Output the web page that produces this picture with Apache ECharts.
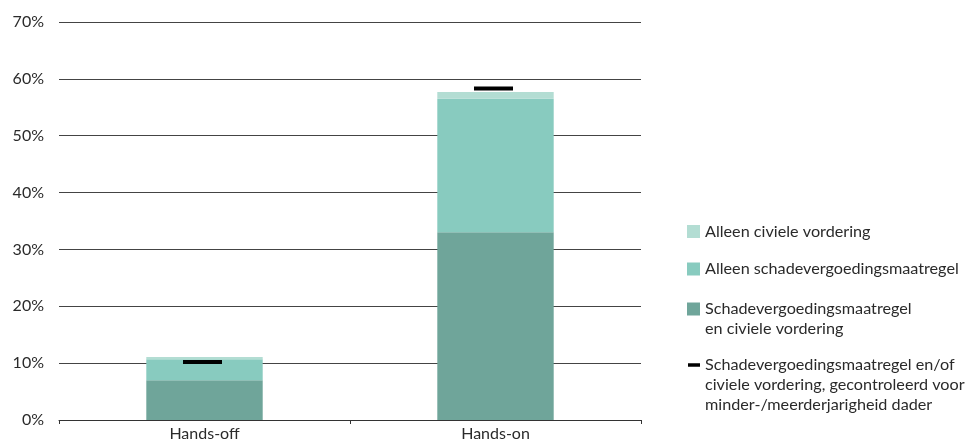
<!DOCTYPE html>
<html>
<head>
<meta charset="utf-8">
<script src="https://cdn.jsdelivr.net/npm/echarts@6/dist/echarts.min.js"></script>
<style>html,body{margin:0;padding:0;background:#fff}#c{width:968px;height:446px}</style>
</head>
<body>
<div id="c"></div>
<script>
var categories = ['Hands-off', 'Hands-on'];
var beide = [7.0, 33.0];              // Schadevergoedingsmaatregel en civiele vordering
var alleenSchade = [3.7, 23.5];       // Alleen schadevergoedingsmaatregel
var alleenCiviel = [0.4, 1.2];        // Alleen civiele vordering
var gecontroleerd = [10.2, 58.3];     // gecontroleerd voor minder-/meerderjarigheid dader
var yTicks = [0, 10, 20, 30, 40, 50, 60, 70];
var legendNames = [
  'Alleen civiele vordering',
  'Alleen schadevergoedingsmaatregel',
  'Schadevergoedingsmaatregel\nen civiele vordering',
  'Schadevergoedingsmaatregel en/of\nciviele vordering, gecontroleerd voor\nminder-/meerderjarigheid dader'
];
var colors = ['#b3ddd3', '#88cbbf', '#6fa59a', '#000000'];

var FONT = 'Lato';
var TXT = '#2a2a2a';

var chart = echarts.init(document.getElementById('c'), null, {renderer: 'canvas'});

var legendY = [231.5, 269, 309, 365];
var graphics = [];
legendNames.forEach(function (name, i) {
  if (i < 3) {
    graphics.push({type: 'rect', left: 687, top: legendY[i] - 6.5, shape: {width: 13, height: 13}, style: {fill: colors[i]}});
  } else {
    graphics.push({type: 'rect', left: 688, top: legendY[i] - 1.75, shape: {width: 12, height: 3.5}, style: {fill: colors[i]}});
  }
  graphics.push({type: 'text', left: 705, top: legendY[i] - 10,
    style: {text: name, font: '16.2px ' + FONT, fill: TXT, lineHeight: 20}});
});

chart.setOption({
  animation: false,
  grid: {left: 59, right: 327, top: 22, bottom: 26},
  xAxis: {
    type: 'category',
    data: categories,
    axisLine: {show: true, lineStyle: {color: '#333', width: 1}},
    axisTick: {show: true, length: 4, alignWithLabel: false, lineStyle: {color: '#333'}},
    axisLabel: {color: TXT, fontFamily: FONT, fontSize: 16, margin: 6}
  },
  yAxis: {
    type: 'value',
    min: yTicks[0], max: yTicks[yTicks.length - 1], interval: 10,
    axisLine: {show: false},
    axisTick: {show: false},
    splitLine: {show: true, lineStyle: {color: '#444', width: 1}},
    axisLabel: {color: TXT, fontFamily: FONT, fontSize: 16, margin: 15, formatter: '{value}%'}
  },
  series: [
    {name: legendNames[2], type: 'bar', stack: 'a', data: beide, barWidth: '40%', itemStyle: {color: colors[2]}},
    {name: legendNames[1], type: 'bar', stack: 'a', data: alleenSchade, itemStyle: {color: colors[1]}},
    {name: legendNames[0], type: 'bar', stack: 'a', data: alleenCiviel, itemStyle: {color: colors[0]}},
    {name: legendNames[3], type: 'scatter', data: gecontroleerd, symbol: 'rect', symbolSize: [39, 4],
      symbolOffset: [-2, 0], itemStyle: {color: colors[3], opacity: 1}, z: 5}
  ],
  graphic: graphics
});
</script>
</body>
</html>
